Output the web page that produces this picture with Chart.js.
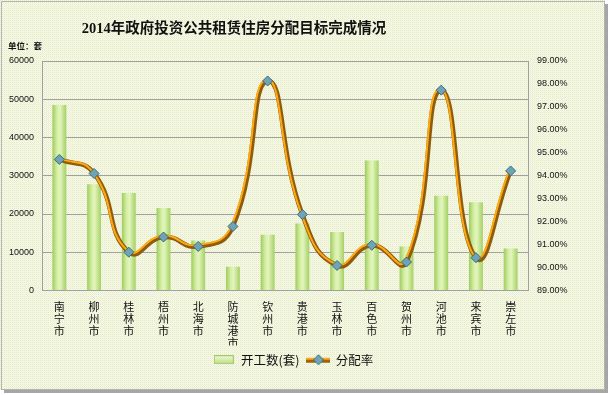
<!DOCTYPE html>
<html>
<head>
<meta charset="utf-8">
<script src="https://cdn.jsdelivr.net/npm/chart.js@4.4.0/dist/chart.umd.min.js"></script>
<style>
  html, body { margin: 0; padding: 0; background: #fff; }
  #wrap { width: 610px; height: 395px; }
</style>
</head>
<body>
<div id="wrap"><canvas id="chart" width="610" height="395"></canvas></div>
<script>
// values
const cities = ["南宁市", "柳州市", "桂林市", "梧州市", "北海市", "防城港市", "钦州市",
  "贵港市", "玉林市", "百色市", "贺州市", "河池市", "来宾市", "崇左市"];
const startedUnits = [48500, 27800, 25500, 21600, 13100, 6200, 14600,
  17500, 15300, 34000, 11500, 24800, 23100, 11000];
const allocationRates = [94.71, 94.10, 90.67, 91.33, 90.92, 91.79, 98.13,
  92.31, 90.09, 90.97, 90.24, 97.73, 90.43, 94.21];
const unitTicks = [0, 10000, 20000, 30000, 40000, 50000, 60000];
const rateTicks = [89, 90, 91, 92, 93, 94, 95, 96, 97, 98, 99];
const seriesNames = ["开工数(套)", "分配率"];
const chartTitle = "2014年政府投资公共租赁住房分配目标完成情况";
const unitNote = "单位：套";

const BAR_PCT = 0.4;

function makeBackgroundPattern() {
  const p = document.createElement("canvas");
  p.width = 2;
  p.height = 2;
  const c = p.getContext("2d");
  c.fillStyle = "#f8faea";
  c.fillRect(0, 0, 2, 2);
  c.fillStyle = "#e2eac2";
  c.fillRect(0, 0, 1, 1);
  c.fillStyle = "#eef0da";
  c.fillRect(1, 1, 1, 1);
  return p;
}

function makeBarLegendIcon() {
  const icon = document.createElement("canvas");
  icon.width = 20;
  icon.height = 9;
  const c = icon.getContext("2d");
  const g = c.createLinearGradient(0, 0, 0, 9);
  g.addColorStop(0, "#f2fadc");
  g.addColorStop(1, "#b9dc80");
  c.fillStyle = g;
  c.fillRect(0, 0, 20, 9);
  c.strokeStyle = "#a3cc68";
  c.strokeRect(0.5, 0.5, 19, 8);
  return icon;
}

function makeLineLegendIcon() {
  const icon = document.createElement("canvas");
  icon.width = 24;
  icon.height = 12;
  const c = icon.getContext("2d");
  c.fillStyle = "#9a6410";
  c.fillRect(0, 5, 24, 4);
  c.fillStyle = "#ffa812";
  c.fillRect(0, 4, 24, 2);
  drawDiamond(c, 12, 6, 5);
  return icon;
}

function drawDiamond(c, x, y, r) {
  c.beginPath();
  c.moveTo(x, y - r);
  c.lineTo(x + r, y);
  c.lineTo(x, y + r);
  c.lineTo(x - r, y);
  c.closePath();
  c.fillStyle = "#6fa3b6";
  c.fill();
  c.strokeStyle = "#3e6b7c";
  c.lineWidth = 1;
  c.stroke();
}

function barGradient(context) {
  const chart = context.chart;
  const xScale = chart.scales.x;
  if (!xScale || xScale.width === undefined) {
    return "#c4e48e";
  }
  const center = xScale.getPixelForValue(context.dataIndex);
  const half = (xScale.width / cities.length) * BAR_PCT / 2;
  const g = chart.ctx.createLinearGradient(center - half, 0, center + half, 0);
  g.addColorStop(0, "#9fcc5c");
  g.addColorStop(0.35, "#d6efa8");
  g.addColorStop(0.55, "#e2f5bb");
  g.addColorStop(1, "#a4d064");
  return g;
}

const backdropPlugin = {
  id: "backdrop",
  beforeDraw(chart) {
    const ctx = chart.ctx;
    ctx.save();
    ctx.fillStyle = "#ffffff";
    ctx.fillRect(0, 0, chart.width, chart.height);
    ctx.fillStyle = ctx.createPattern(makeBackgroundPattern(), "repeat");
    ctx.fillRect(0, 0, 605, 390);
    ctx.strokeStyle = "#b4b4b4";
    ctx.lineWidth = 1;
    ctx.strokeRect(1.5, 1.5, 603, 388);
    ctx.strokeStyle = "#a6a6a6";
    ctx.lineWidth = 3;
    ctx.beginPath();
    ctx.moveTo(606.5, 4);
    ctx.lineTo(606.5, 391.5);
    ctx.lineTo(4, 391.5);
    ctx.stroke();

    ctx.fillStyle = "#111";
    ctx.textAlign = "center";
    ctx.textBaseline = "middle";
    ctx.font = "bold 14.5px 'Liberation Serif', 'Noto Sans CJK SC', serif";
    ctx.fillText(chartTitle, 234, 29);
    ctx.textAlign = "left";
    ctx.font = "bold 8.5px 'Noto Sans CJK SC', sans-serif";
    ctx.fillText(unitNote, 8, 46);
    ctx.restore();
  }
};

// slight offset of the orange stroke gives the bevelled look of the line
const bevelPlugin = {
  id: "bevel",
  beforeDatasetDraw(chart, args) {
    if (args.index === 2) {
      chart.ctx.save();
      chart.ctx.translate(-1.2, -1.4);
    }
  },
  afterDatasetDraw(chart, args) {
    if (args.index === 2) {
      chart.ctx.restore();
    }
  }
};

const barIcon = makeBarLegendIcon();
const lineIcon = makeLineLegendIcon();

new Chart(document.querySelector("#chart"), {
  data: {
    labels: cities.map((name) => name.split("")),
    datasets: [
      {
        type: "line",
        label: seriesNames[1],
        data: allocationRates,
        yAxisID: "y1",
        showLine: false,
        pointStyle: "rectRot",
        pointRadius: 5,
        pointBackgroundColor: "#6fa3b6",
        pointBorderColor: "#3e6b7c",
        pointBorderWidth: 1,
        order: 0
      },
      {
        type: "line",
        label: seriesNames[1],
        data: allocationRates,
        yAxisID: "y1",
        borderColor: "#8f5c0c",
        borderWidth: 4.5,
        tension: 0.5,
        pointRadius: 0,
        order: 2
      },
      {
        type: "line",
        label: seriesNames[1],
        data: allocationRates,
        yAxisID: "y1",
        borderColor: "#ffa812",
        borderWidth: 2,
        tension: 0.5,
        pointRadius: 0,
        order: 1
      },
      {
        type: "bar",
        label: seriesNames[0],
        data: startedUnits,
        yAxisID: "y",
        backgroundColor: barGradient,
        borderWidth: 0,
        barPercentage: BAR_PCT,
        categoryPercentage: 1,
        order: 3
      }
    ]
  },
  options: {
    responsive: false,
    animation: false,
    devicePixelRatio: 1,
    layout: { padding: { left: 8, right: 32, top: 61, bottom: 19 } },
    plugins: {
      title: { display: false },
      tooltip: { enabled: false },
      legend: {
        position: "bottom",
        labels: {
          usePointStyle: true,
          pointStyleWidth: 22,
          padding: 8,
          color: "#111",
          font: { family: "'Noto Sans CJK SC', sans-serif", size: 12.5 },
          generateLabels: () => [
            { text: seriesNames[0], pointStyle: barIcon, fillStyle: "transparent", strokeStyle: "transparent", lineWidth: 0, hidden: false, datasetIndex: 3, fontColor: "#111" },
            { text: seriesNames[1], pointStyle: lineIcon, fillStyle: "transparent", strokeStyle: "transparent", lineWidth: 0, hidden: false, datasetIndex: 0, fontColor: "#111" }
          ]
        }
      }
    },
    scales: {
      x: {
        offset: true,
        grid: { display: false, drawTicks: false },
        border: { display: true, color: "#a0a0a0" },
        ticks: {
          autoSkip: false,
          maxRotation: 0,
          padding: 10,
          color: "#111",
          font: { family: "'Noto Sans CJK SC', sans-serif", size: 11, lineHeight: 1.1 }
        },
        afterFit: (scale) => { scale.height = 55; }
      },
      y: {
        position: "left",
        min: unitTicks[0],
        max: unitTicks[unitTicks.length - 1],
        afterBuildTicks: (scale) => { scale.ticks = unitTicks.map((v) => ({ value: v })); },
        grid: { color: "#a0a0a0", drawTicks: false },
        border: { display: true, color: "#a0a0a0" },
        ticks: {
          padding: 8,
          color: "#111",
          font: { family: "'Liberation Sans', Arial, sans-serif", size: 9 },
          callback: (v) => String(v)
        },
        afterFit: (scale) => { scale.width = 34; }
      },
      y1: {
        position: "right",
        min: rateTicks[0],
        max: rateTicks[rateTicks.length - 1],
        afterBuildTicks: (scale) => { scale.ticks = rateTicks.map((v) => ({ value: v })); },
        grid: { display: false, drawTicks: false },
        border: { display: true, color: "#a0a0a0" },
        ticks: {
          padding: 9,
          color: "#111",
          font: { family: "'Liberation Sans', Arial, sans-serif", size: 9 },
          callback: (v) => v.toFixed(2) + "%"
        },
        afterFit: (scale) => { scale.width = 50; }
      }
    }
  },
  plugins: [backdropPlugin, bevelPlugin]
});
</script>
</body>
</html>
